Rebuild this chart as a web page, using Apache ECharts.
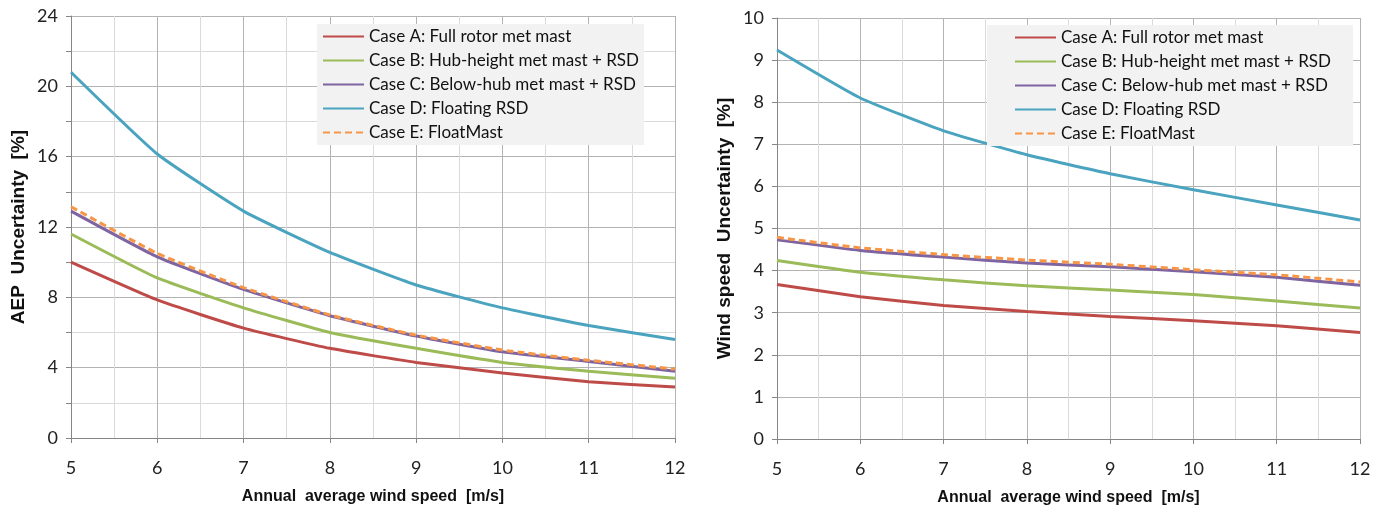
<!DOCTYPE html>
<html>
<head>
<meta charset="utf-8">
<script src="https://cdn.jsdelivr.net/npm/echarts@6/dist/echarts.min.js"></script>
<style>
  html, body { margin: 0; padding: 0; background: #fff; }
  #chart { width: 1386px; height: 506px; }
</style>
</head>
<body>
<div id="chart"></div>
<script>
// wind speeds on the x axis
const speeds = [5, 6, 7, 8, 9, 10, 11, 12];
const caseNames = [
  'Case A: Full rotor met mast',
  'Case B: Hub-height met mast + RSD',
  'Case C: Below-hub met mast + RSD',
  'Case D: Floating RSD',
  'Case E: FloatMast'
];
const caseColors = ['#be4b48', '#9bbb59', '#7f64a2', '#4aa3bf', '#f79646'];

// AEP uncertainty [%]
const aepA = [10.0, 7.85, 6.25, 5.1, 4.3, 3.7, 3.2, 2.9];
const aepB = [11.6, 9.1, 7.4, 6.0, 5.1, 4.3, 3.8, 3.4];
const aepC = [12.9, 10.3, 8.45, 6.95, 5.8, 4.9, 4.35, 3.8];
const aepD = [20.8, 16.15, 12.9, 10.55, 8.7, 7.4, 6.4, 5.6];
const aepE = [13.15, 10.5, 8.55, 7.0, 5.85, 5.0, 4.42, 3.92];

// wind speed uncertainty [%]
const wsA = [3.67, 3.38, 3.17, 3.03, 2.91, 2.81, 2.69, 2.53];
const wsB = [4.24, 3.96, 3.78, 3.64, 3.54, 3.43, 3.28, 3.11];
const wsC = [4.73, 4.48, 4.32, 4.18, 4.09, 3.97, 3.84, 3.65];
const wsD = [9.24, 8.1, 7.32, 6.75, 6.3, 5.92, 5.56, 5.2];
const wsE = [4.79, 4.54, 4.38, 4.25, 4.15, 4.02, 3.9, 3.73];

const aepTicks = { min: 0, max: 24, interval: 4 };
const wsTicks = { min: 0, max: 10, interval: 1 };

const labelFont = 'Lato, "Open Sans", sans-serif';
const titleFont = '"Liberation Sans Narrow", "Liberation Sans", Arial, sans-serif';

function pairs(ys) {
  return speeds.map((x, i) => [x, ys[i]]);
}

function xAxisFor(gridIndex) {
  return {
    type: 'value', gridIndex, min: 5, max: 12, interval: 1,
    name: 'Annual  average wind speed  [m/s]',
    nameLocation: 'middle', nameGap: 51,
    nameTextStyle: { fontFamily: titleFont, fontWeight: 'bold', fontSize: 16, color: '#111' },
    axisLine: { lineStyle: { color: '#868686', width: 1 } },
    axisTick: { show: true, length: 5, lineStyle: { color: '#868686' } },
    axisLabel: { fontFamily: labelFont, fontSize: 18, color: '#222', margin: 21 },
    splitLine: { show: true, lineStyle: { color: '#b3b3b3', width: 1 } },
    minorTick: { show: false, splitNumber: 2 },
    minorSplitLine: { show: true, lineStyle: { color: '#dadada', width: 1 } }
  };
}

function yAxisFor(gridIndex, ticks, title, minor) {
  return {
    type: 'value', gridIndex, min: ticks.min, max: ticks.max, interval: ticks.interval,
    name: title, nameLocation: 'middle', nameGap: 43, nameRotate: 90,
    nameTextStyle: { fontFamily: '"Liberation Sans", Arial, sans-serif', fontWeight: 'bold', fontSize: 19, color: '#111' },
    axisLine: { show: true, lineStyle: { color: '#868686', width: 1 } },
    axisTick: { show: true, length: 5, lineStyle: { color: '#868686' } },
    axisLabel: { fontFamily: labelFont, fontSize: 18, color: '#222', margin: 13 },
    splitLine: { show: true, lineStyle: { color: '#b3b3b3', width: 1 } },
    minorTick: { show: minor, splitNumber: 2, length: 5, lineStyle: { color: '#868686' } },
    minorSplitLine: { show: minor, lineStyle: { color: '#dadada', width: 1 } }
  };
}

function seriesFor(gridIndex, sets) {
  return sets.map((ys, i) => ({
    name: caseNames[i],
    type: 'line',
    xAxisIndex: gridIndex, yAxisIndex: gridIndex,
    data: pairs(ys),
    symbol: 'none',
    smooth: 0.15,
    z: i === 4 ? 5 : 3,
    lineStyle: { color: caseColors[i], width: 3, type: i === 4 ? [7, 4] : 'solid' },
    itemStyle: { color: caseColors[i] }
  }));
}

function legendFor(left, top, padLeft, padRight) {
  return {
    left, top, orient: 'vertical',
    data: caseNames,
    backgroundColor: '#f2f2f2',
    padding: [4, padRight, 4, padLeft],
    itemWidth: 41, itemHeight: 14, itemGap: 7,
    itemStyle: { opacity: 0 },
    textStyle: { fontFamily: labelFont, fontSize: 17, color: '#111' },
    selectedMode: false
  };
}

const chart = echarts.init(document.getElementById('chart'));
chart.setOption({
  animation: false,
  backgroundColor: '#fff',
  grid: [
    { left: 71, top: 16, width: 604, height: 422, outerBoundsMode: 'none' },
    { left: 777, top: 18, width: 583, height: 421, outerBoundsMode: 'none' }
  ],
  xAxis: [xAxisFor(0), xAxisFor(1)],
  yAxis: [
    yAxisFor(0, aepTicks, 'AEP  Uncertainty  [%]', true),
    yAxisFor(1, wsTicks, 'Wind speed  Uncertainty  [%]', false)
  ],
  legend: [legendFor(317, 24, 5, 5), legendFor(987, 25, 27, 22)],
  series: [
    ...seriesFor(0, [aepA, aepB, aepC, aepD, aepE]),
    ...seriesFor(1, [wsA, wsB, wsC, wsD, wsE])
  ]
});
</script>
</body>
</html>
